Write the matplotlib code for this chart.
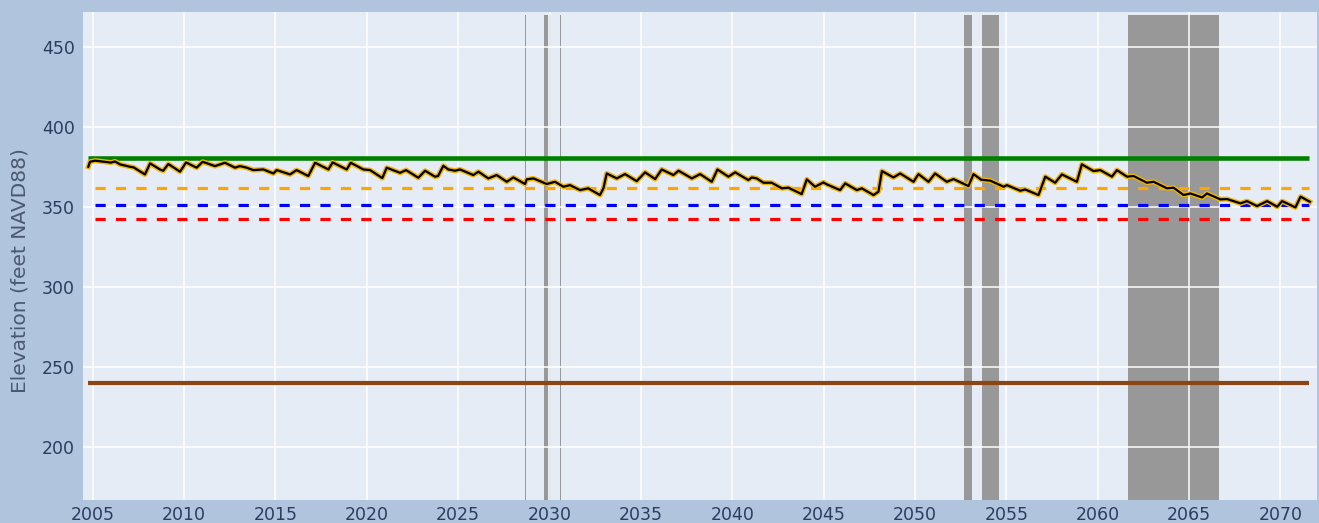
import matplotlib
matplotlib.use("Agg")
import matplotlib.pyplot as plt

# Simulated reservoir elevation (decimal year, feet NAVD88)
years = [
    2004.76, 2004.85, 2005.13, 2006.00, 2006.22, 2006.49, 2007.04, 2007.24, 2007.86, 2008.14,
    2008.68, 2008.86, 2009.14, 2009.78, 2010.11, 2010.69, 2011.02, 2011.69, 2012.24, 2012.79,
    2013.06, 2013.43, 2013.79, 2014.34, 2014.89, 2015.07, 2015.80, 2016.16, 2016.80, 2017.17,
    2017.90, 2018.13, 2018.90, 2019.12, 2019.81, 2020.18, 2020.85, 2021.09, 2021.82, 2022.15,
    2022.82, 2023.19, 2023.73, 2023.90, 2024.19, 2024.46, 2024.83, 2025.10, 2025.83, 2026.11,
    2026.65, 2027.11, 2027.66, 2028.02, 2028.66, 2028.75, 2029.12, 2029.85, 2030.12, 2030.30,
    2030.76, 2031.12, 2031.67, 2032.12, 2032.76, 2032.95, 2033.13, 2033.68, 2034.13, 2034.77,
    2035.23, 2035.78, 2036.14, 2036.78, 2037.06, 2037.79, 2038.24, 2038.88, 2039.19, 2039.79,
    2040.16, 2040.88, 2041.07, 2041.34, 2041.71, 2042.16, 2042.71, 2043.07, 2043.80, 2044.08,
    2044.53, 2044.99, 2045.17, 2045.90, 2046.18, 2046.82, 2047.09, 2047.73, 2048.00, 2048.19,
    2048.82, 2049.19, 2049.92, 2050.19, 2050.74, 2051.10, 2051.74, 2052.11, 2052.93, 2053.20,
    2053.62, 2054.12, 2054.85, 2055.03, 2055.76, 2056.03, 2056.76, 2057.13, 2057.67, 2058.04,
    2058.86, 2059.13, 2059.77, 2060.14, 2060.78, 2061.05, 2061.60, 2061.96, 2062.69, 2063.06,
    2063.79, 2064.15, 2064.70, 2065.07, 2065.71, 2065.98, 2066.71, 2067.08, 2067.81, 2068.17,
    2068.72, 2069.27, 2069.82, 2070.09, 2070.82, 2071.10, 2071.61,
]
elevation = [
    375.4, 378.5, 379.2, 378.0, 378.7, 376.9, 375.4, 375.0, 370.6, 377.5,
    373.7, 372.9, 377.1, 372.3, 378.1, 374.8, 378.5, 375.8, 377.9, 374.8,
    375.8, 374.8, 373.3, 373.7, 371.2, 373.3, 370.6, 373.3, 369.6, 377.9,
    373.7, 378.1, 373.7, 377.9, 373.7, 373.3, 368.3, 374.8, 371.6, 373.3,
    368.5, 372.9, 369.2, 369.6, 376.0, 373.7, 372.9, 373.7, 370.2, 372.3,
    368.1, 370.2, 366.0, 368.7, 364.6, 367.5, 368.1, 364.6, 365.4, 366.0,
    362.9, 363.9, 360.8, 361.9, 357.7, 361.9, 371.2, 368.1, 370.8, 366.4,
    371.9, 367.7, 373.7, 370.2, 372.9, 368.1, 370.8, 366.0, 373.7, 369.2,
    371.9, 367.1, 368.7, 368.1, 365.4, 365.4, 361.9, 362.3, 358.3, 367.5,
    362.9, 365.6, 364.4, 360.8, 365.0, 360.8, 361.9, 357.7, 359.8, 372.7,
    368.7, 371.2, 366.0, 370.8, 366.0, 371.2, 366.0, 367.7, 363.3, 370.8,
    367.3, 366.7, 362.9, 363.9, 360.4, 361.2, 357.7, 369.2, 365.4, 370.6,
    366.0, 376.9, 372.7, 373.3, 369.2, 373.3, 369.2, 369.6, 365.4, 366.0,
    361.9, 362.3, 357.7, 358.7, 356.2, 358.7, 355.0, 355.2, 352.5, 353.9,
    350.8, 353.9, 350.4, 353.9, 350.0, 356.7, 353.5,
]

# Reference elevations (feet NAVD88)
line_start, dash_start, line_end = 2004.76, 2005.10, 2071.57
full_pool = 381.0
upper_rule = 362.0
middle_rule = 351.5
lower_rule = 343.0
dead_pool = 240.5

# Shaded periods (start, end in decimal years)
shade_periods = [
    (2028.64, 2028.71), (2029.72, 2029.94), (2029.97, 2030.07), (2030.56, 2030.62),
    (2052.69, 2053.11), (2053.66, 2054.61), (2061.63, 2066.61),
]
shade_top = 470.0

xticks = list(range(2005, 2071, 5))
yticks = [200, 250, 300, 350, 400, 450]

W, H = 1319, 523
fig = plt.figure(figsize=(W / 100, H / 100), dpi=100, facecolor="#b0c4de")
ax = fig.add_axes([83 / W, 23 / H, (1317 - 83) / W, (500 - 11.7) / H])
ax.set_facecolor("#e5ecf6")
for s in ax.spines.values():
    s.set_visible(False)

ax.set_xlim(2004.47, 2072.0)
ax.set_ylim(167.1, 472.3)

for a, b in shade_periods:
    ax.fill_between([a, b], [ax.get_ylim()[0]] * 2, [shade_top] * 2,
                    color="#989898", linewidth=0, zorder=0.2)

ax.set_axisbelow(True)
ax.grid(color="white", linewidth=1.1)

ax.plot([line_start, line_end], [full_pool] * 2, color="#008000", lw=3.3,
        solid_capstyle="butt", zorder=2)
ax.plot([line_start, line_end], [dead_pool] * 2, color="#8b4513", lw=3.0,
        solid_capstyle="butt", zorder=2)
for val, col in [(upper_rule, "#ffa500"), (middle_rule, "#0000ff"), (lower_rule, "#ff0000")]:
    ax.plot([dash_start, line_end], [val] * 2, color=col, lw=2.3,
            dashes=(3.2, 3.2), dash_capstyle="butt", zorder=2)

ax.plot(years, elevation, color="#f2b400", lw=3.6, zorder=3, solid_joinstyle="round")
ax.plot(years, elevation, color="black", lw=1.6, zorder=4, solid_joinstyle="round")

ax.set_xticks(xticks)
ax.set_yticks(yticks)
ax.tick_params(axis="x", length=0, labelsize=12.5, labelcolor="#2a3f5f", pad=4)
ax.tick_params(axis="y", length=0, labelsize=12.5, labelcolor="#2a3f5f", pad=6)
ax.set_ylabel("Elevation (feet NAVD88)", fontsize=14.5, color="#4a5a6e")
ax.yaxis.set_label_coords(-0.043, 0.47)

fig.savefig("out.png", dpi=100, facecolor=fig.get_facecolor())
